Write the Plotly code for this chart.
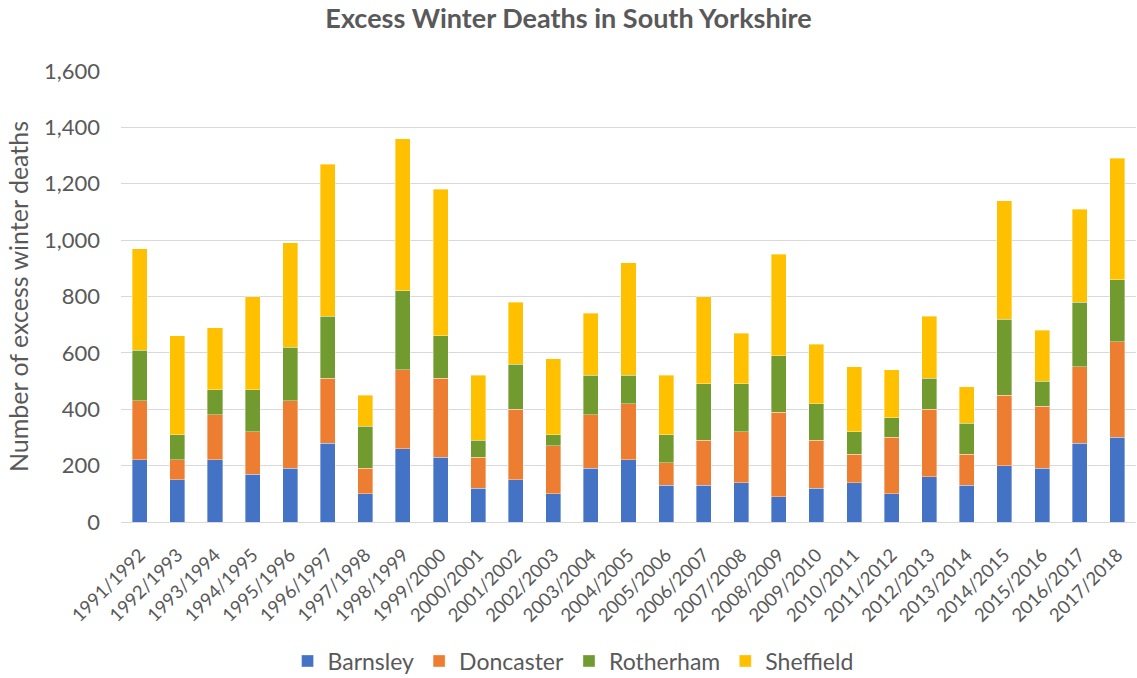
import plotly.graph_objects as go

seasons = [
    "1991/1992", "1992/1993", "1993/1994", "1994/1995", "1995/1996", "1996/1997",
    "1997/1998", "1998/1999", "1999/2000", "2000/2001", "2001/2002", "2002/2003",
    "2003/2004", "2004/2005", "2005/2006", "2006/2007", "2007/2008", "2008/2009",
    "2009/2010", "2010/2011", "2011/2012", "2012/2013", "2013/2014", "2014/2015",
    "2015/2016", "2016/2017", "2017/2018",
]

barnsley = [220, 150, 220, 170, 190, 280, 100, 260, 230, 120, 150, 100, 190, 220,
            130, 130, 140, 90, 120, 140, 100, 160, 130, 200, 190, 280, 300]
doncaster = [210, 70, 160, 150, 240, 230, 90, 280, 280, 110, 250, 170, 190, 200,
             80, 160, 180, 300, 170, 100, 200, 240, 110, 250, 220, 270, 340]
rotherham = [180, 90, 90, 150, 190, 220, 150, 280, 150, 60, 160, 40, 140, 100,
             100, 200, 170, 200, 130, 80, 70, 110, 110, 270, 90, 230, 220]
sheffield = [360, 350, 220, 330, 370, 540, 110, 540, 520, 230, 220, 270, 220, 400,
             210, 310, 180, 360, 210, 230, 170, 220, 130, 420, 180, 330, 430]

series = [
    ("Barnsley", barnsley, "#4472C4"),
    ("Doncaster", doncaster, "#ED7D31"),
    ("Rotherham", rotherham, "#729B2F"),
    ("Sheffield", sheffield, "#FFC000"),
]

FONT = "Lato, 'Open Sans', sans-serif"
GREY = "#595959"

fig = go.Figure()
for name, vals, color in series:
    fig.add_trace(go.Bar(
        x=seasons, y=vals, name=name,
        marker=dict(color=color, line=dict(color="rgba(255,255,255,0.6)", width=0.6)),
    ))

fig.update_layout(
    barmode="stack",
    bargap=0.6,
    width=1137, height=678,
    margin=dict(l=121, r=1, t=71, b=156),
    paper_bgcolor="white",
    plot_bgcolor="white",
    font=dict(family=FONT, color=GREY),
    title=dict(
        text="<b>Excess Winter Deaths in South Yorkshire</b>",
        x=0.5, xref="container", xanchor="center",
        y=1 - 19 / 678, yref="container", yanchor="middle",
        font=dict(size=27, color=GREY, family=FONT),
    ),
    legend=dict(
        orientation="h",
        traceorder="normal",
        x=0.504, xref="container", xanchor="center",
        y=1 - 661 / 678, yref="container", yanchor="middle",
        font=dict(size=23, color=GREY, family=FONT),
        itemwidth=30,
    ),
    showlegend=True,
)

fig.update_xaxes(
    tickangle=-45,
    tickfont=dict(size=18.5, color=GREY, family=FONT),
    showgrid=False,
    showline=True, linecolor="#d9d9d9", linewidth=1,
    ticks="", ticklabelstandoff=14,
)
fig.update_yaxes(
    range=[0, 1600], dtick=200, tickformat=",",
    tickfont=dict(size=22, color=GREY, family=FONT),
    gridcolor="#d9d9d9", gridwidth=1,
    zeroline=False,
    ticks="", ticklabelstandoff=20,
    title=dict(text="Number of excess winter deaths",
               font=dict(size=25, color=GREY, family=FONT), standoff=8),
)

fig.write_html("out.html")
